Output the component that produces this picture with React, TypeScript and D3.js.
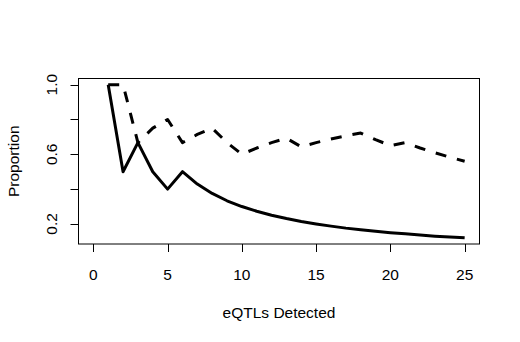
import React from "react";
import * as d3 from "d3";

const xValues = [1, 2, 3, 4, 5, 6, 7, 8, 9, 10, 11, 12, 13, 14, 15, 16, 17, 18, 19, 20, 21, 22, 23, 24, 25];
const solidSeries = [1.0, 0.5, 0.667, 0.5, 0.4, 0.5, 0.429, 0.375, 0.333, 0.3, 0.273, 0.25, 0.231, 0.214, 0.2, 0.1875, 0.176, 0.167, 0.158, 0.15, 0.143, 0.136, 0.13, 0.125, 0.12];
const dashedSeries = [1.0, 1.0, 0.667, 0.75, 0.8, 0.667, 0.714, 0.75, 0.667, 0.6, 0.636, 0.667, 0.692, 0.643, 0.667, 0.6875, 0.706, 0.722, 0.684, 0.65, 0.667, 0.636, 0.609, 0.583, 0.56];
const xTicks = [0, 5, 10, 15, 20, 25];
const yTicks = [0.2, 0.4, 0.6, 0.8, 1.0];
const yTickLabels = ["0.2", "", "0.6", "", "1.0"];

export default function App() {
  const W = 520, H = 342;
  const left = 78.5, right = 479.5, top = 78.5, bottom = 244;
  const x = d3.scaleLinear().domain([-1, 26]).range([left, right]);
  const y = d3.scaleLinear().domain([0.0848, 1.0352]).range([bottom, top]);
  const line = d3.line<number>().x((_, i) => x(xValues[i])).y((d) => y(d));
  const font = "'Liberation Sans', Arial, sans-serif";
  const fs = 15.5;
  return (
    <svg width={W} height={H} style={{ position: "absolute", left: 0, top: 0, background: "#fff" }} fontFamily={font}>
      <rect x={0} y={0} width={W} height={H} fill="#fff" />
      <path d={line(solidSeries) || ""} fill="none" stroke="#000" strokeWidth={3} strokeLinejoin="round" />
      <path d={line(dashedSeries) || ""} fill="none" stroke="#000" strokeWidth={3} strokeDasharray="11,11" strokeLinejoin="round" />
      <rect x={left} y={top} width={right - left} height={bottom - top} fill="none" stroke="#000" strokeWidth={1} />
      {xTicks.map((t) => (
        <g key={"x" + t}>
          <line x1={Math.round(x(t)) + 0.5} x2={Math.round(x(t)) + 0.5} y1={bottom} y2={bottom + 8} stroke="#000" />
          <text x={x(t)} y={279.5} textAnchor="middle" fontSize={fs}>{t}</text>
        </g>
      ))}
      {yTicks.map((t, i) => (
        <g key={"y" + t}>
          <line x1={left} x2={left - 8} y1={Math.round(y(t)) + 0.5} y2={Math.round(y(t)) + 0.5} stroke="#000" />
          {yTickLabels[i] && (
            <text transform={`translate(56.5,${y(t)}) rotate(-90)`} textAnchor="middle" fontSize={fs}>{yTickLabels[i]}</text>
          )}
        </g>
      ))}
      <text x={(left + right) / 2} y={317.5} textAnchor="middle" fontSize={fs}>eQTLs Detected</text>
      <text transform={`translate(18.5,${(top + bottom) / 2}) rotate(-90)`} textAnchor="middle" fontSize={fs}>Proportion</text>
    </svg>
  );
}
